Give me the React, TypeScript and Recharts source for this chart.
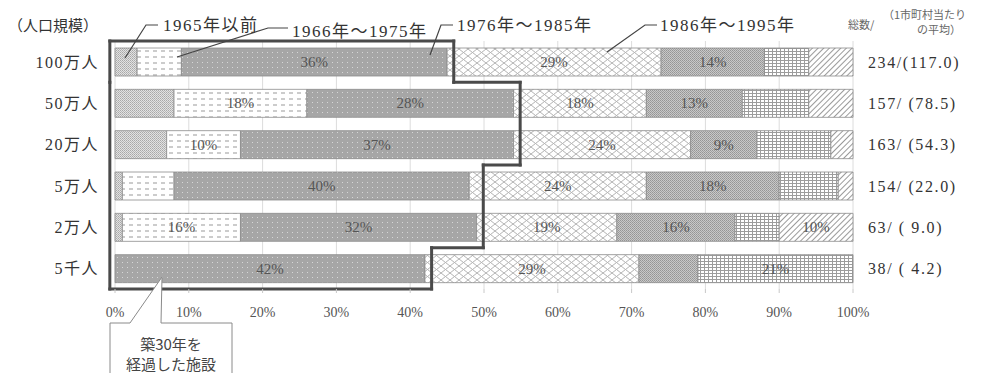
import React from 'react';
import {
  BarChart,
  Bar,
  XAxis,
  YAxis,
  CartesianGrid,
  LabelList,
  ReferenceLine,
} from 'recharts';

// 人口規模別・建築年代別の施設割合（%）
const categories = ['100万人', '50万人', '20万人', '5万人', '2万人', '5千人'];
const before1965 = [3, 8, 7, 1, 1, 0];
const from1966 = [6, 18, 10, 7, 16, 0];
const from1976 = [36, 28, 37, 40, 32, 42];
const from1986 = [29, 18, 24, 24, 19, 29];
const from1996 = [14, 13, 9, 18, 16, 8];
const from2006 = [6, 9, 10, 8, 6, 21];
const after2016 = [6, 6, 3, 2, 10, 0];

const totals = [234, 157, 163, 154, 63, 38];
const averages = [117.0, 78.5, 54.3, 22.0, 9.0, 4.2];

const xTicks = [0, 10, 20, 30, 40, 50, 60, 70, 80, 90, 100];

// rows sharing one step of the 築30年 outline
const outlineGroups = [[0], [1, 2], [3, 4], [5]];

const W = 991;
const H = 373;
const SERIF = '"Liberation Serif", "DejaVu Serif", "Noto Sans CJK JP", serif';
const CJK = '"Noto Sans CJK JP", "Liberation Serif", serif';

const series = [
  { key: 'a', values: before1965, fill: 'url(#pat1)', labelMin: Infinity },
  { key: 'b', values: from1966, fill: 'url(#pat2)', labelMin: 10 },
  { key: 'c', values: from1976, fill: 'url(#pat3)', labelMin: 9 },
  { key: 'd', values: from1986, fill: 'url(#pat4)', labelMin: 9 },
  { key: 'e', values: from1996, fill: 'url(#pat5)', labelMin: 9 },
  { key: 'f', values: from2006, fill: 'url(#pat6)', labelMin: 15 },
  { key: 'g', values: after2016, fill: 'url(#pat7)', labelMin: 10 },
];

const data = categories.map((name, i) => {
  const row: Record<string, any> = { name, total: totals[i], avg: averages[i] };
  series.forEach((s) => (row[s.key] = s.values[i]));
  return row;
});

const totalText = (i: number) => {
  const avg = averages[i];
  const gap = avg >= 100 ? '' : '\u00a0';
  const pad = avg < 10 ? '\u00a0' : '';
  return `${totals[i]}/${gap}(${pad}${avg.toFixed(1)})`;
};

type Edge = {
  position: 'start' | 'end';
  segment: { x: number; y: string }[];
};

// boundary k is the top of row k; boundary n is the bottom of the last row
const n = categories.length;
const edge = (x1: number, k1: number, x2: number, k2: number): Edge[] => {
  if (k1 < n && k2 < n) {
    return [{ position: 'start', segment: [{ x: x1, y: categories[k1] }, { x: x2, y: categories[k2] }] }];
  }
  if (k1 > 0 && k2 > 0) {
    return [{ position: 'end', segment: [{ x: x1, y: categories[k1 - 1] }, { x: x2, y: categories[k2 - 1] }] }];
  }
  // spans the whole height: split at boundary 1
  const xm = x1 + ((x2 - x1) * (1 - k1)) / (k2 - k1);
  return [...edge(x1, k1, xm, 1), ...edge(xm, 1, x2, k2)];
};

// step outline around everything built up to 1985
const outlineEdges = () => {
  const left = -0.7;
  const pts: [number, number][] = [[left, 0]];
  outlineGroups.forEach((rows) => {
    const x =
      Math.max(...rows.map((r) => before1965[r] + from1966[r] + from1976[r])) + 0.9;
    pts.push([x, rows[0]]);
    pts.push([x, rows[rows.length - 1] + 1]);
  });
  pts.push([left, n]);
  pts.push([left, 0]);
  const edges: Edge[] = [];
  for (let i = 1; i < pts.length; i++) {
    edges.push(...edge(pts[i - 1][0], pts[i - 1][1], pts[i][0], pts[i][1]));
  }
  return edges;
};

const SegmentLabel = (min: number) => (props: any) => {
  const { x, y, width, height, value } = props;
  if (value == null || value < min) return null;
  return (
    <text
      x={x + width / 2}
      y={y + height / 2 + 5}
      textAnchor="middle"
      fontFamily={SERIF}
      fontSize={15}
      fill="#555"
    >
      {value}%
    </text>
  );
};

const LeftTick = (props: any) => {
  const { x, y, payload } = props;
  return (
    <text
      x={x}
      y={y + 6}
      textAnchor="end"
      fontFamily={SERIF}
      fontSize={16}
      letterSpacing={1.5}
      fill="#333"
    >
      {payload.value}
    </text>
  );
};

const RightTick = (props: any) => {
  const { x, y, index } = props;
  return (
    <text x={x} y={y + 6} fontFamily={SERIF} fontSize={16} letterSpacing={1.6} fill="#333">
      {totalText(index)}
    </text>
  );
};

const Patterns = () => (
  <defs>
    <pattern id="pat1" width="2" height="2" patternUnits="userSpaceOnUse">
      <rect width="2" height="2" fill="#e2e2e2" />
      <rect width="1" height="1" fill="#a8a8a8" />
      <rect x="1" y="1" width="1" height="1" fill="#b8b8b8" />
    </pattern>
    <pattern id="pat2" width="8" height="6" patternUnits="userSpaceOnUse">
      <rect width="8" height="6" fill="#fff" />
      <line x1="1" y1="3" x2="5" y2="3" stroke="#9a9a9a" strokeWidth="1" />
    </pattern>
    <pattern id="pat3" width="5" height="5" patternUnits="userSpaceOnUse">
      <rect width="5" height="5" fill="#a6a6a6" />
      <rect x="2" y="2" width="1" height="1" fill="#d6d6d6" />
    </pattern>
    <pattern id="pat4" width="9" height="7" patternUnits="userSpaceOnUse">
      <rect width="9" height="7" fill="#fff" />
      <path d="M0 0 L9 7 M9 0 L0 7" stroke="#b4b4b4" strokeWidth="1" />
    </pattern>
    <pattern id="pat5" width="2" height="2" patternUnits="userSpaceOnUse">
      <rect width="2" height="2" fill="#c8c8c8" />
      <rect width="1" height="1" fill="#959595" />
      <rect x="1" y="1" width="1" height="1" fill="#a0a0a0" />
    </pattern>
    <pattern id="pat6" width="4" height="3" patternUnits="userSpaceOnUse">
      <rect width="4" height="3" fill="#fff" />
      <path d="M0 0.5 H4 M0.5 0 V3" stroke="#9c9c9c" strokeWidth="1" />
    </pattern>
    <pattern
      id="pat7"
      width="4"
      height="4"
      patternUnits="userSpaceOnUse"
      patternTransform="rotate(45)"
    >
      <rect width="4" height="4" fill="#fff" />
      <line x1="0.5" y1="0" x2="0.5" y2="4" stroke="#9a9a9a" strokeWidth="1" />
    </pattern>
  </defs>
);

const Annotations = () => (
  <svg
    width={W}
    height={H}
    style={{ position: 'absolute', left: 0, top: 0, pointerEvents: 'none' }}
  >
    <text x={8} y={31} fontFamily={CJK} fontSize={15} fill="#333">
      （人口規模）
    </text>

    <g fontFamily={SERIF} fontSize={17} letterSpacing={1.5} fill="#333">
      <text x={163} y={31}>1965年以前</text>
      <text x={292} y={37}>1966年～1975年</text>
      <text x={457} y={31}>1976年～1985年</text>
      <text x={660} y={31}>1986年～1995年</text>
    </g>
    <g stroke="#444" strokeWidth={1.2} fill="none">
      <polyline points="158,25 146,25 125,58" />
      <polyline points="288,28 268,28 177,57" />
      <polyline points="453,25 441,25 430,55" />
      <polyline points="657,25 645,25 607,52" />
    </g>

    <text x={848} y={29} fontFamily={CJK} fontSize={11} fill="#666">
      総数/
    </text>
    <text x={883} y={19} fontFamily={CJK} fontSize={11} fill="#666">
      （1市町村当たり
    </text>
    <text x={917} y={34} fontFamily={CJK} fontSize={11} fill="#666">
      の平均）
    </text>

    <polyline
      points="110,380 110,323 130,323 162,277 161,323 232,323 232,380"
      stroke="#8a8a8a"
      strokeWidth={1}
      fill="#fff"
    />
    <g fontFamily={CJK} fontSize={15} fill="#444" textAnchor="middle">
      <text x={171} y={350}>築30年を</text>
      <text x={171} y={370}>経過した施設</text>
    </g>
  </svg>
);

export default function App() {
  const edges = outlineEdges();
  return (
    <div
      style={{
        position: 'relative',
        width: W,
        height: H,
        marginLeft: -8,
        marginTop: -8,
        background: '#fff',
        overflow: 'hidden',
      }}
    >
      <BarChart
        width={W}
        height={H}
        data={data}
        layout="vertical"
        margin={{ top: 41, right: 0, bottom: 54, left: 0 }}
        barSize={28}
      >
        <Patterns />
        <CartesianGrid horizontal={false} stroke="#dcdcdc" />
        <XAxis
          type="number"
          domain={[0, 100]}
          ticks={xTicks}
          tickFormatter={(v) => `${v}%`}
          axisLine={false}
          tickLine={{ stroke: '#c8c8c8' }}
          tickSize={4}
          tickMargin={14}
          height={30}
          tick={{ fontFamily: SERIF, fontSize: 14, fill: '#555' }}
        />
        <YAxis
          type="category"
          dataKey="name"
          width={115}
          axisLine={false}
          tickLine={false}
          tick={<LeftTick />}
          tickMargin={10}
        />
        <YAxis
          yAxisId="right"
          orientation="right"
          type="category"
          dataKey="name"
          width={138}
          axisLine={false}
          tickLine={false}
          tick={<RightTick />}
          tickMargin={9}
        />
        {series.map((s) => (
          <Bar
            key={s.key}
            dataKey={s.key}
            stackId="years"
            fill={s.fill}
            stroke="#8c8c8c"
            strokeWidth={0.8}
            isAnimationActive={false}
          >
            <LabelList dataKey={s.key} content={SegmentLabel(s.labelMin)} />
          </Bar>
        ))}
        {edges.map((e, i) => (
          <ReferenceLine
            key={`edge-${i}`}
            segment={e.segment}
            position={e.position}
            ifOverflow="visible"
            stroke="#4a4a4a"
            strokeWidth={3}
            strokeLinecap="square"
          />
        ))}
      </BarChart>
      <Annotations />
    </div>
  );
}
